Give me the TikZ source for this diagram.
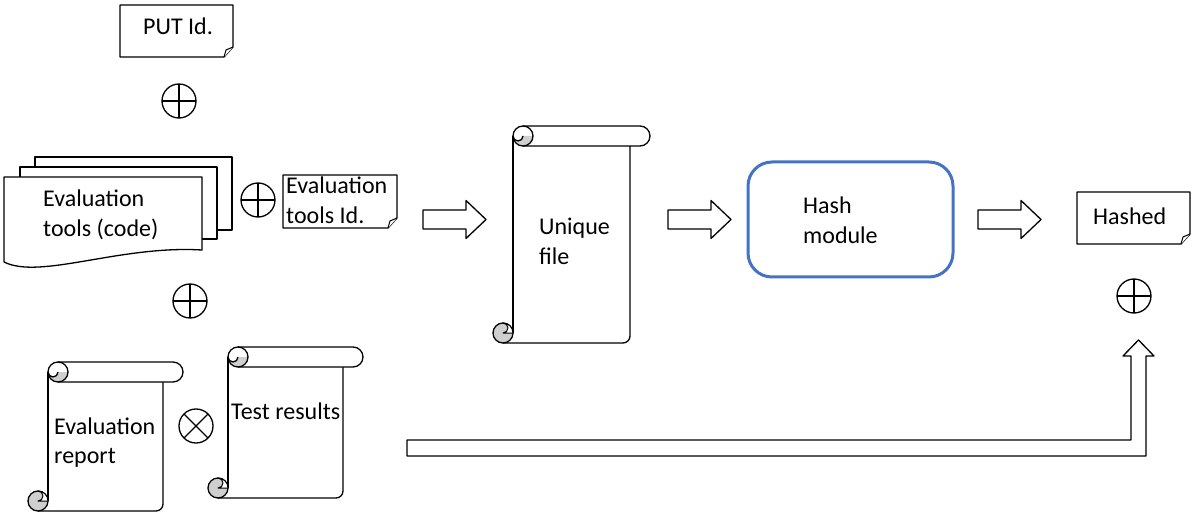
\documentclass[tikz,border=0pt]{standalone}
\usepackage{fontspec}
\setmainfont{Carlito}
\usetikzlibrary{calc}
\definecolor{hashblue}{HTML}{4472C4}
\definecolor{curlgray}{HTML}{CFCFCF}
\newcommand\twoline[1]{\begin{tabular}[t]{@{}l@{}}#1\end{tabular}}
% folded-corner note: x1 y1 x2 y2
\newcommand\notebox[4]{%
  \draw[shp] (#1,#2) -- (#3,#2) -- (#3,#4-10) -- (#3-9,#4) -- (#1,#4) -- cycle;
  \draw[shp,line width=1pt] (#3-9,#4) -- (#3-7,#4-7) -- (#3,#4-10);}
% vertical scroll: x0 top right bottom
\newcommand\scrollshape[4]{%
  \draw[shp,fill=none] (#1+20,#2+10) -- (#1+20,#4-10);
  \draw[shp,fill=none,rounded corners=7pt] (#1+10,#4) -- (#3-20,#4) -- (#3-20,#2+20);
  \draw[shp] (#1+30,#2) -- (#3-10,#2) arc(-90:90:10) -- (#1+30,#2+20);
  \fill[curlgray] (#1+30,#2+10) arc(0:180:5) arc(180:0:10) -- cycle;
  \draw[shp,fill=none] (#1+30,#2+10) circle (10);
  \draw[shp,fill=none] (#1+30,#2+10) arc(0:180:5);
  \draw[shp,fill=curlgray] (#1+10,#4-10) circle (10);
  \draw[shp,line width=1pt] (#1+10,#4-20) arc(-90:90:5) -- (#1+20,#4-10) arc(0:-90:10) -- cycle;}
% block arrow starting at x
\newcommand\blockarrow[1]{%
  \draw[shp] (#1,210) -- (#1+43,210) -- (#1+43,200.5) -- (#1+63,219.5) -- (#1+43,238.5) -- (#1+43,229) -- (#1,229) -- cycle;}
\begin{document}
\begin{tikzpicture}[x=1pt,y=-1pt,
  shp/.style={draw=black,line width=1.3pt,fill=white,line join=round},
  txt/.style={inner sep=0pt,anchor=base west,font=\fontsize{24}{29.5}\selectfont},
  circ/.style={draw=black,line width=1.3pt,fill=white,circle,minimum size=34pt,inner sep=0pt,outer sep=0pt},
]
\useasboundingbox (0,0) rectangle (1192,513);

% PUT Id.
\notebox{120}{5}{233}{57}
\node[txt] (putid) at (143,35) {PUT Id.};

% circles
\node[circ] (c1) at (179,101) {};
\draw[line width=1.3pt] (c1.north) -- (c1.south) (c1.west) -- (c1.east);
\node[circ] (c2) at (258,200) {};
\draw[line width=1.3pt] (c2.north) -- (c2.south) (c2.west) -- (c2.east);
\node[circ] (c3) at (190,301) {};
\draw[line width=1.3pt] (c3.north) -- (c3.south) (c3.west) -- (c3.east);
\node[circ] (c4) at (196,426) {};
\draw[line width=1.3pt] (c4.north east) -- (c4.south west) (c4.north west) -- (c4.south east);
\node[circ] (c5) at (1134,296) {};
\draw[line width=1.3pt] (c5.north) -- (c5.south) (c5.west) -- (c5.east);

% stack of documents
\draw[shp] (35,157) rectangle (232,230);
\draw[shp] (20,167) rectangle (217,239);
\draw[shp] (4,177) -- (202,177) -- (202,250) .. controls (120,245) and (40,280) .. (4,262) -- cycle;
\node[txt] (evtools) at (43,207) {\twoline{Evaluation\\tools (code)}};

% evaluation tools id
\notebox{283}{175}{397}{228}
\node[txt] (evid) at (286,194) {\twoline{Evaluation\\tools Id.}};

% scrolls
\scrollshape{493}{126}{650}{343}
\node[txt] (uniq) at (539,235) {\twoline{Unique\\file}};
\scrollshape{28}{362}{183}{511}
\node[txt] (evrep) at (54,434) {\twoline{Evaluation\\report}};
\scrollshape{208}{347}{363}{498}
\node[txt] (test) at (231,419) {Test results};

% block arrows
\blockarrow{423}
\blockarrow{668}
\blockarrow{978}

% hash module
\node[draw=hashblue,line width=3pt,rounded corners=24pt,minimum width=205pt,minimum height=115pt,inner sep=0pt] (hash) at (850.5,219.5) {};
\node[txt] (hashtxt) at (803,214) {\twoline{Hash\\module}};

% hashed
\notebox{1077}{192}{1190}{244}
\node[txt] (hashed) at (1093,225) {Hashed};

% elbow arrow
\draw[shp] (407,440) -- (1131,440) -- (1131,356) -- (1123,356) -- (1138.5,340) -- (1154,356) -- (1146,356) -- (1146,456) -- (407,456) -- cycle;
\end{tikzpicture}
\end{document}
